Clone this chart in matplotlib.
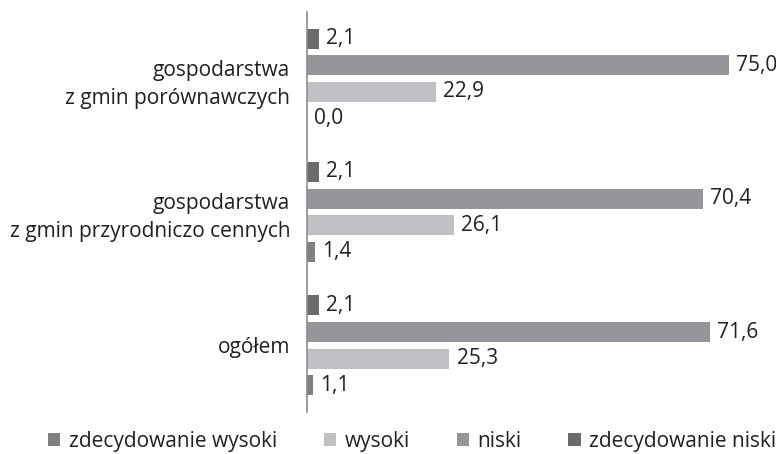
import numpy as np
import matplotlib.pyplot as plt
from matplotlib.patches import Patch

plt.rcParams['font.family'] = ['Open Sans', 'DejaVu Sans']

# dane (od dołu wykresu)
kategorie = ['ogółem', 'gospodarstwa\nz gmin przyrodniczo cennych', 'gospodarstwa\nz gmin porównawczych']
zdec_wysoki = [1.1, 1.4, 0.0]
wysoki = [25.3, 26.1, 22.9]
niski = [71.6, 70.4, 75.0]
zdec_niski = [2.1, 2.1, 2.1]

serie = ['zdecydowanie wysoki', 'wysoki', 'niski', 'zdecydowanie niski']
kolory = ['#808083', '#bfc0c3', '#96969a', '#6b6b6e']
wartosci = [zdec_wysoki, wysoki, niski, zdec_niski]

FS = 15

fig = plt.figure(figsize=(7.76, 4.54), dpi=100)
ax = fig.add_axes([0.3956, 0.0925, 0.58, 0.8811])

y = np.arange(len(kategorie))
krok = 0.2
wys = 0.15
for i, (nazwa, kol, wart) in enumerate(zip(serie, kolory, wartosci)):
    pos = y + (i - 1.5) * krok
    ax.barh(pos, wart, height=wys, color=kol)
    for p, v in zip(pos, wart):
        ax.text(v + 1.3, p, f'{v:.1f}'.replace('.', ','), va='center', ha='left',
                fontsize=FS, color='#231f20')

ax.set_ylim(-0.5, 2.5)
ax.set_xlim(0, 80)
ax.set_yticks(y)
ax.set_yticklabels(kategorie, fontsize=FS, color='#231f20', ha='right',
                   linespacing=1.4)
ax.tick_params(axis='y', length=0, pad=12)
ax.set_xticks([])
for s in ['top', 'right', 'bottom']:
    ax.spines[s].set_visible(False)
ax.spines['left'].set_color('#8c8c8c')
ax.spines['left'].set_linewidth(1.2)

uchwyty = [Patch(facecolor=k, edgecolor='none') for k in kolory]
fig.legend(uchwyty, serie, loc='center', bbox_to_anchor=(0.531, 0.028), ncol=4,
           frameon=False, fontsize=FS, handlelength=0.6, handleheight=0.6,
           handletextpad=0.4, columnspacing=2.25, labelcolor='#231f20')

fig.savefig('out.png', dpi=100)
